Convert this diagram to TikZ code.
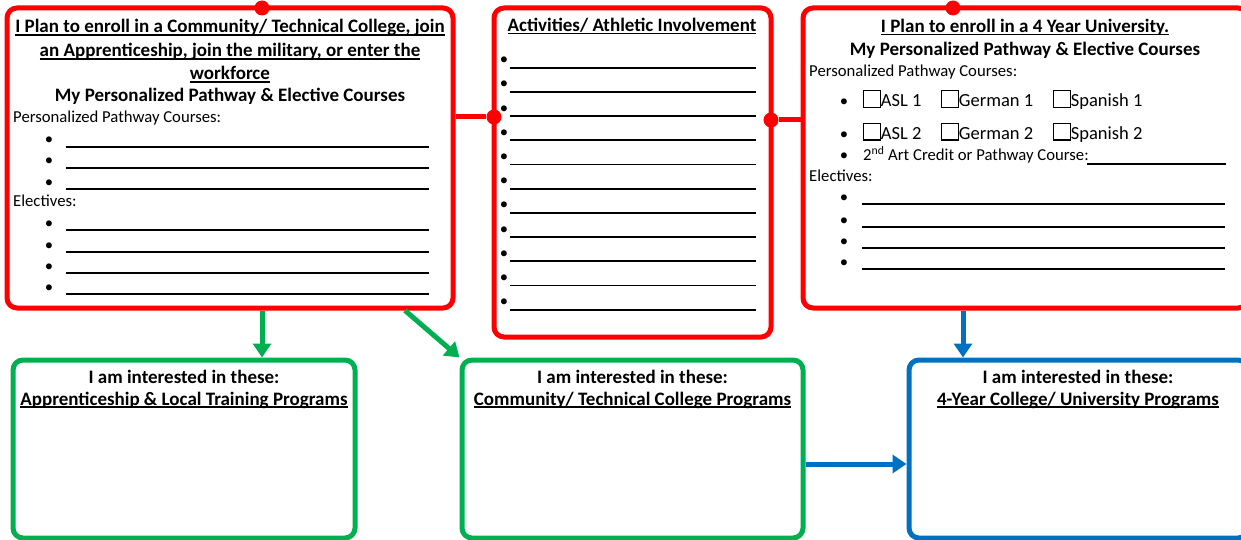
\documentclass[tikz,border=0pt]{standalone}
\usepackage{fontspec}
\setmainfont{Carlito}
\usetikzlibrary{arrows.meta}
\definecolor{planred}{HTML}{FF0000}
\definecolor{gogreen}{HTML}{00B050}
\definecolor{unblue}{HTML}{0070C0}
\newcommand\undl[1]{\setbox0\hbox{#1}\rlap{\rule[-2.6pt]{\wd0}{1.5pt}}\box0}
\newcommand\chk{{\fboxsep=0pt\fboxrule=1.1pt\fbox{\rule{0pt}{15.5pt}\rule{15.5pt}{0pt}}}}
\tikzstyle{panel}=[draw,rectangle,rounded corners=10pt,line width=5pt,inner sep=0pt]
\tikzstyle{knob}=[circle,fill=planred,inner sep=0pt,minimum size=15pt]
\tikzstyle{link}=[planred,line width=5pt]
\tikzstyle{go}=[line width=5pt,-{Triangle[length=14pt,width=18pt]}]
\tikzstyle{hd}=[font=\fontsize{19}{23}\selectfont\bfseries,anchor=base,inner sep=0pt]
\tikzstyle{txt}=[font=\fontsize{16.7}{20}\selectfont,anchor=base west,inner sep=0pt]
\tikzstyle{blt}=[txt,anchor=base]
\tikzstyle{chx}=[font=\fontsize{18.5}{22}\selectfont,anchor=base west,inner sep=0pt]
\tikzstyle{blank}=[line width=1.7pt]
\begin{document}
\begin{tikzpicture}[x=1pt,y=-1pt]
	\clip (0,0) rectangle (1241,540);
	% plans
	\node[panel,planred,minimum width=446pt,minimum height=300pt] (cc)  at (230,158)    {};
	\node[panel,planred,minimum width=277pt,minimum height=329pt] (act) at (632.5,172.5) {};
	\node[panel,planred,minimum width=445pt,minimum height=300pt] (uni) at (1025.5,158)  {};
	% interests
	\node[panel,gogreen,minimum width=342pt,minimum height=178pt] (appr) at (184,449)    {};
	\node[panel,gogreen,minimum width=341pt,minimum height=178pt] (tech) at (632.5,449)  {};
	\node[panel,unblue, minimum width=339pt,minimum height=178pt] (four) at (1078.5,449) {};
	% knobs and links
	\node[knob] (k1) at (494,117) {};
	\node[knob] (k2) at (771,120) {};
	\node[knob] (k3) at (262,8)   {};
	\node[knob] (k4) at (953,8)   {};
	\draw[link] (k1 -| cc.east) -- (k1);
	\draw[link] (k2) -- (k2 -| uni.west);
	% arrows
	\draw[go,gogreen] (cc.south -| k3) -- (appr.north -| k3);
	\draw[go,gogreen] (cc.south -| 405,0) -- (tech.north west);
	\draw[go,unblue]  (uni.south -| 963,0) -- (four.north -| 963,0);
	\draw[go,unblue]  (tech.east |- 0,464) -- (four.west |- 0,464);
	% community / technical college
	\node[hd] (cc1) at (230,33)  {\undl{I Plan to enroll in a Community/ Technical College, join}};
	\node[hd] (cc2) at (230,57)  {\undl{an Apprenticeship, join the military, or enter the}};
	\node[hd] (cc3) at (230,80)  {\undl{workforce}};
	\node[hd] (cc4) at (230,102) {My Personalized Pathway \& Elective Courses};
	\node[txt] (ccp) at (13,123) {Personalized Pathway Courses:};
	\node[txt] (cce) at (13,207) {Electives:};
	\foreach \y [count=\i] in {147,168,189,230,252,273,294}{
		\node[blt] (ccb\i) at (49,\y-2) {\textbullet};
		\draw[blank] (66,\y) -- (429,\y);
	}
	% activities
	\node[hd] (acth) at (632,31.5) {\undl{Activities/ Athletic Involvement}};
	\foreach \i in {0,...,10}{
		\node[blt] (actb\i) at (504,64.7+24.2*\i) {\textbullet};
		\draw[blank] (510,67.7+24.2*\i) -- (756,67.7+24.2*\i);
	}
	% university
	\node[hd] (uni1) at (1025,32.5) {\undl{I Plan to enroll in a 4 Year University.}};
	\node[hd] (uni2) at (1025,55.5) {My Personalized Pathway \& Elective Courses};
	\node[txt] (unip) at (809,77) {Personalized Pathway Courses:};
	\foreach \y/\n in {107/1,139.5/2}{
		\node[blt] (unib\n) at (844,\y) {\textbullet};
		\node[chx] (asl\n) at (863,\y)  {\chk ASL \n};
		\node[chx] (ger\n) at (941,\y)  {\chk German \n};
		\node[chx] (spa\n) at (1053,\y) {\chk Spanish \n};
	}
	\node[blt] (unib3) at (844,161) {\textbullet};
	\node[txt] (art) at (863,161) {2\textsuperscript{nd} Art Credit or Pathway Course:};
	\draw[blank] (1087,164) -- (1226,164);
	\node[txt] (unie) at (809,182) {Electives:};
	\foreach \y [count=\i] in {204,227,248,269}{
		\node[blt] (uneb\i) at (844,\y-2) {\textbullet};
		\draw[blank] (862,\y) -- (1225,\y);
	}
	% interests text
	\node[hd] (appr1) at (184,383)  {I am interested in these:};
	\node[hd] (appr2) at (184,405)  {\undl{Apprenticeship \& Local Training Programs}};
	\node[hd] (tech1) at (632.5,383) {I am interested in these:};
	\node[hd] (tech2) at (632.5,405) {\undl{Community/ Technical College Programs}};
	\node[hd] (four1) at (1078,383) {I am interested in these:};
	\node[hd] (four2) at (1078,405) {\undl{4-Year College/ University Programs}};
\end{tikzpicture}
\end{document}
